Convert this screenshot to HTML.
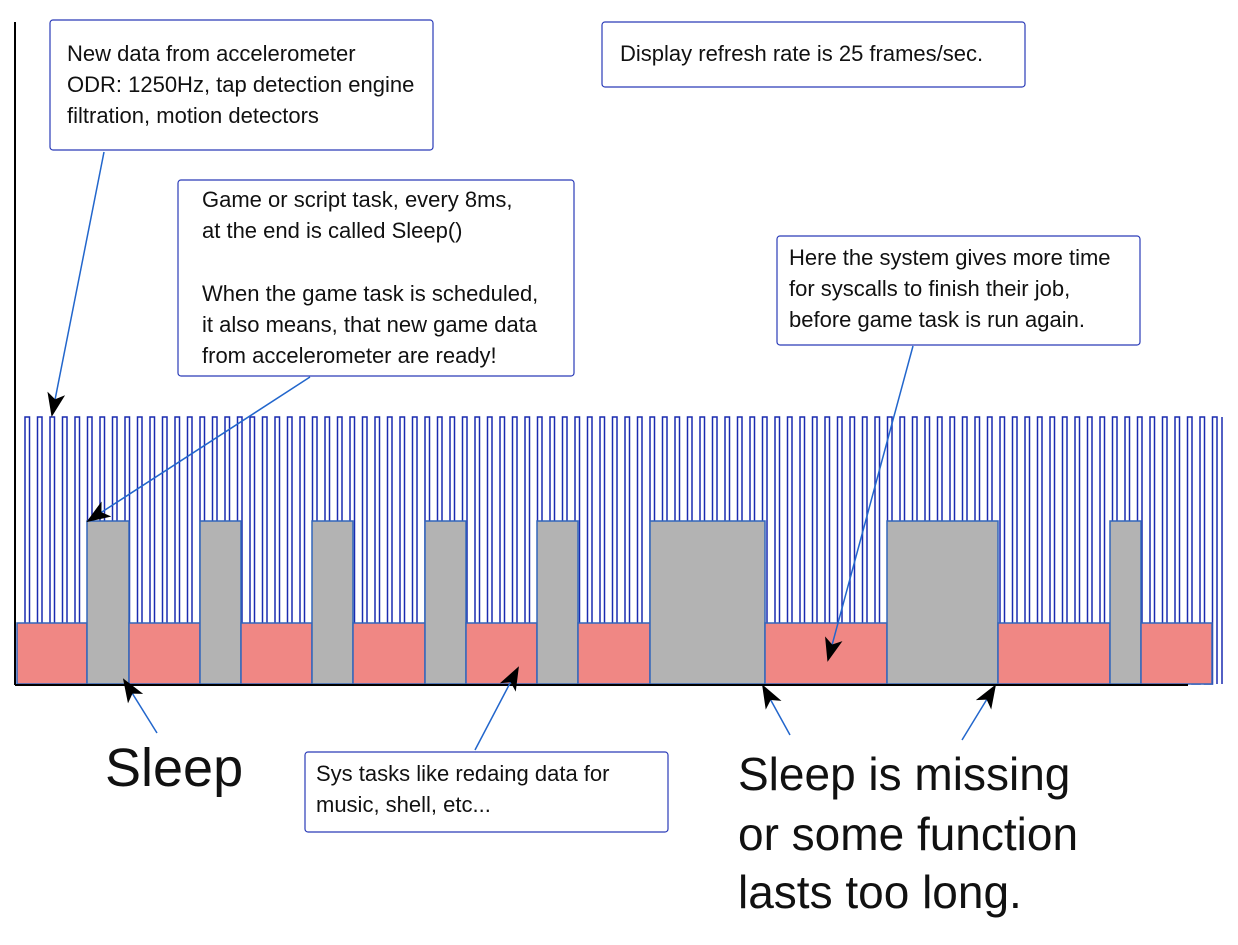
<!DOCTYPE html>
<html><head><meta charset="utf-8"><style>
body{margin:0;background:#fff;}
svg text{font-family:"Liberation Sans",sans-serif;fill:#111;}
</style></head><body>
<svg width="1238" height="940" viewBox="0 0 1238 940">
<defs><marker id="ah" markerWidth="24" markerHeight="18" refX="22" refY="9" orient="auto" markerUnits="userSpaceOnUse"><path d="M0,0 L24,9 L0,18 L6,9z" fill="#000"/></marker></defs>
<line x1="15" y1="22" x2="15" y2="685" stroke="#000" stroke-width="2"/>
<path id="pulses" fill="none" stroke="#1a2bb0" stroke-width="1.5"/>
<g id="blocks"></g>
<line x1="15" y1="685" x2="1188" y2="685" stroke="#000" stroke-width="2"/>
<g fill="#fff" stroke="#2a3bb8" stroke-width="1.2">
<rect x="50" y="20" width="383" height="130" rx="3"/>
<rect x="178" y="180" width="396" height="196" rx="3"/>
<rect x="602" y="22" width="423" height="65" rx="3"/>
<rect x="777" y="236" width="363" height="109" rx="3"/>
<rect x="305" y="752" width="363" height="80" rx="3"/>
</g>
<g font-size="22">
<text x="67" y="61">New data from accelerometer</text>
<text x="67" y="92">ODR: 1250Hz, tap detection engine</text>
<text x="67" y="123">filtration, motion detectors</text>
<text x="202" y="207">Game or script task, every 8ms,</text>
<text x="202" y="238">at the end is called Sleep()</text>
<text x="202" y="301">When the game task is scheduled,</text>
<text x="202" y="332">it also means, that new game data</text>
<text x="202" y="363">from accelerometer are ready!</text>
<text x="620" y="61">Display refresh rate is  25 frames/sec.</text>
<text x="789" y="265">Here the system gives more time</text>
<text x="789" y="296">for syscalls to finish their job,</text>
<text x="789" y="327">before game task is run again.</text>
<text x="316" y="781">Sys tasks like redaing data for</text>
<text x="316" y="812">music, shell, etc...</text>
</g>
<text x="105" y="786" font-size="54">Sleep</text>
<g font-size="46">
<text x="738" y="790">Sleep is missing</text>
<text x="738" y="850">or some function</text>
<text x="738" y="908">lasts too long.</text>
</g>
<g stroke="#2266cc" stroke-width="1.5" marker-end="url(#ah)">
<line x1="104" y1="152" x2="52" y2="415"/>
<line x1="310" y1="377" x2="88" y2="521"/>
<line x1="913" y1="346" x2="828" y2="660"/>
<line x1="157" y1="733" x2="124" y2="680"/>
<line x1="475" y1="750" x2="518" y2="668"/>
<line x1="790" y1="735" x2="763" y2="686"/>
<line x1="962" y1="740" x2="995" y2="686"/>
</g>
</svg>
<script>
const pulseCount = 96;
const pulsePeriod = 12.5;
const segStarts = [17,87,129,200,241,312,353,425,466,537,578,650,765,887,998,1110,1141];
const segEnds   = [87,129,200,241,312,353,425,466,537,578,650,765,887,998,1110,1141,1212];
const segKinds  = ['sys','game','sys','game','sys','game','sys','game','sys','game','sys','game','sys','game','sys','game','sys'];
let d='M25,684';
for(let i=0;i<pulseCount;i++){const x=25+i*pulsePeriod;d+=` L${x},684 L${x},417 L${x+4.5},417 L${x+4.5},684`;}
d+=' M1222,417 L1222,684';
document.getElementById('pulses').setAttribute('d',d);
const g=document.getElementById('blocks');
for(let i=0;i<segStarts.length;i++){
  const r=document.createElementNS('http://www.w3.org/2000/svg','rect');
  const game=segKinds[i]==='game';
  const y=game?521:623;
  r.setAttribute('x',segStarts[i]);r.setAttribute('y',y);
  r.setAttribute('width',segEnds[i]-segStarts[i]);r.setAttribute('height',684-y);
  r.setAttribute('fill',game?'#b3b3b3':'#f08784');r.setAttribute('stroke','#3366bb');r.setAttribute('stroke-width','1.5');
  
  
  g.appendChild(r);
}
</script>
</body></html>
